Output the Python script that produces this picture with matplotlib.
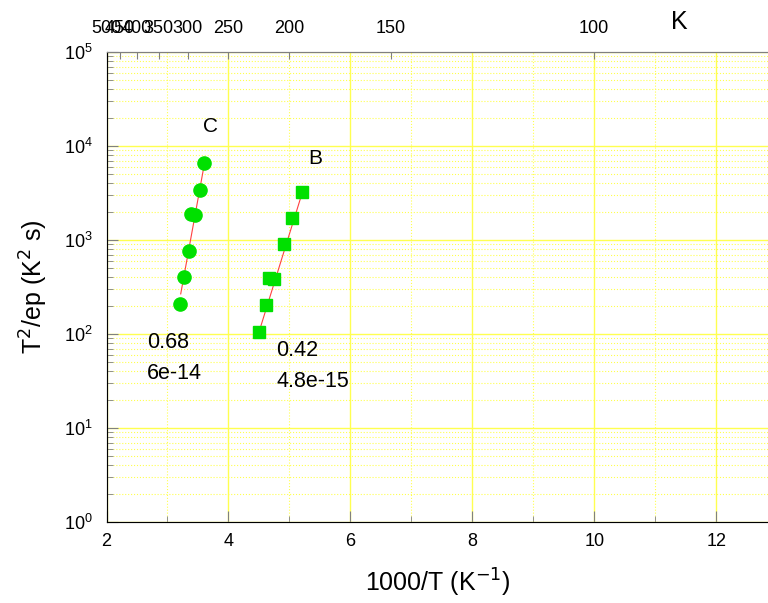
import matplotlib
matplotlib.use('Agg')
import matplotlib.pyplot as plt
import numpy as np

plt.rcParams['font.family'] = ['Liberation Sans', 'DejaVu Sans']

# Sample C (circles)
c_x = [3.605, 3.534, 3.386, 3.452, 3.358, 3.271, 3.206]
c_y = [6550, 3400, 1890, 1845, 770, 401, 208]
c_fit_x = [3.217, 3.605]
c_fit_y = [267, 6440]

# Sample B (squares)
b_x = [4.507, 4.617, 4.67, 4.75, 4.912, 5.039, 5.203]
b_y = [106, 204, 391, 388, 900, 1700, 3217]
b_fit_x = [4.507, 5.219]
b_fit_y = [108, 3320]

# top axis temperatures (K)
top_T = [500, 450, 400, 350, 300, 250, 200, 150, 100]

spine_col = '#808080'
grid_col = '#ffff50'

fig = plt.figure(figsize=(7.68, 6.03), dpi=100)
ax = fig.add_axes([0.1387, 0.1343, 0.8613, 0.7795])

ax.set_yscale('log')
ax.set_xlim(2, 12.85)
ax.set_ylim(1, 1e5)

ax.plot(c_fit_x, c_fit_y, color='#ff4040', lw=0.8, zorder=3)
ax.plot(b_fit_x, b_fit_y, color='#ff4040', lw=0.8, zorder=3)
ax.plot(c_x, c_y, 'o', color='#00e000', ms=9.5, mec='#00e000', zorder=4)
ax.plot(b_x, b_y, 's', color='#00e000', ms=8, mec='#00e000', zorder=4)

ax.text(3.7, 10**4.21, 'C', fontsize=15, ha='center', va='center')
ax.text(5.43, 10**3.87, 'B', fontsize=15, ha='center', va='center')
ax.text(2.66, 10**1.91, '0.68', fontsize=15.5, ha='left', va='center')
ax.text(2.66, 10**1.585, '6e-14', fontsize=15.5, ha='left', va='center')
ax.text(4.78, 10**1.82, '0.42', fontsize=15.5, ha='left', va='center')
ax.text(4.78, 10**1.5, '4.8e-15', fontsize=15.5, ha='left', va='center')

ax.set_xticks([2, 4, 6, 8, 10, 12])
ax.set_xticks([3, 5, 7, 9, 11], minor=True)
ax.set_yticks([1, 10, 100, 1e3, 1e4, 1e5])
ax.set_yticks([m * 10**d for d in range(5) for m in range(2, 10)], minor=True)
ax.set_yticklabels([], minor=True)

ax.grid(True, which='major', color=grid_col, lw=1.0, ls='-')
ax.grid(True, which='minor', color=grid_col, lw=0.8, ls=':')
ax.set_axisbelow(True)

ax.tick_params(which='both', direction='in', color=spine_col, labelsize=13)
ax.tick_params(which='major', length=8)
ax.tick_params(which='minor', length=4)
ax.tick_params(axis='x', pad=8)
ax.tick_params(axis='y', pad=10)
for side in ['left', 'bottom', 'top']:
    ax.spines[side].set_color(spine_col)
ax.spines['right'].set_visible(False)

ax.set_xlabel('1000/T (K$^{-1}$)', fontsize=18, labelpad=12)
ax.set_ylabel('T$^2$/ep (K$^2$ s)', fontsize=18, labelpad=10)

ax2 = ax.twiny()
ax2.set_xlim(ax.get_xlim())
ax2.set_xticks([1000.0 / t for t in top_T])
ax2.set_xticklabels([str(t) for t in top_T])
ax2.tick_params(direction='in', color=spine_col, labelsize=13, length=5, pad=11)
ax2.spines['right'].set_visible(False)
ax2.spines['top'].set_color(spine_col)
ax2.text(11.4, 10**5.32, 'K', fontsize=18, ha='center', va='center',
         transform=ax.transData)

fig.savefig('out.png', dpi=100)
